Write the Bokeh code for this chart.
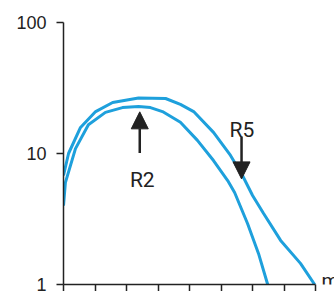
from bokeh.plotting import figure
from bokeh.embed import file_html
from bokeh.resources import INLINE
from bokeh.models import FixedTicker, Arrow, NormalHead, Label

# ---- data ----
outer_x = [0.00, 0.16, 0.54, 1.02, 1.56, 2.38, 3.24, 3.71, 4.13, 4.76, 5.30, 5.68, 6.00, 6.35, 6.89, 7.52, 7.97]
outer_y = [6.8, 10.0, 15.8, 20.9, 24.5, 26.5, 26.3, 23.7, 20.9, 14.5, 9.66, 6.79, 4.78, 3.48, 2.17, 1.45, 1.0]
inner_x = [0.00, 0.06, 0.38, 0.79, 1.33, 1.87, 2.38, 2.76, 3.14, 3.71, 4.25, 4.76, 5.21, 5.43, 5.84, 6.19, 6.48]
inner_y = [4.0, 6.0, 10.9, 16.6, 20.6, 22.4, 22.8, 22.4, 20.9, 17.3, 12.6, 8.84, 6.22, 5.04, 2.92, 1.72, 1.0]

x_ticks = [0, 1, 2, 3, 4, 5, 6, 7, 8]
y_ticks = [1, 10, 100]
y_tick_labels = ["1", "10", "100"]

# annotations: label, arrow x, arrow tail y, arrow tip y, text x, text baseline y
ann_labels = ["R2", "R5"]
ann_arrow_x = [2.42, 5.65]
ann_tail_y = [10.1, 13.5]
ann_tip_y = [20.8, 6.4]
ann_text_x = [2.50, 5.66]
ann_text_y = [6.33, 15.0]
unit_label = "m"

BLUE = "#1ea0dc"
DARK = "#222222"
FONT = "Roboto"

# frame spans from the y axis to the right edge; axis line is bounded to 0..8
x_end = 8.6

p = figure(width=334, height=291, y_axis_type="log",
           x_range=(0, x_end), y_range=(1, 100),
           output_backend="svg", toolbar_location=None,
           min_border_left=63, min_border_right=0,
           min_border_top=22, min_border_bottom=7)
p.outline_line_color = None
p.xgrid.grid_line_color = None
p.ygrid.grid_line_color = None
p.background_fill_color = "white"
p.border_fill_color = "white"

p.line(outer_x, outer_y, line_color=BLUE, line_width=3)
p.line(inner_x, inner_y, line_color=BLUE, line_width=3)

# x axis (ticks only, no labels)
xa = p.xaxis[0]
xa.bounds = (x_ticks[0], x_ticks[-1])
xa.ticker = FixedTicker(ticks=x_ticks, minor_ticks=[])
xa.major_label_overrides = {t: "" for t in x_ticks}
xa.major_label_text_font_size = "1px"
xa.major_label_standoff = 0
xa.major_tick_out = 7
xa.major_tick_in = 0
xa.minor_tick_line_color = None
xa.axis_line_color = DARK
xa.axis_line_width = 1.5
xa.major_tick_line_color = DARK
xa.major_tick_line_width = 1.5

# y axis
ya = p.yaxis[0]
ya.ticker = FixedTicker(ticks=y_ticks, minor_ticks=[])
ya.major_label_overrides = {t: s for t, s in zip(y_ticks, y_tick_labels)}
ya.major_label_text_font = "Liberation Sans"
ya.major_label_text_font_size = "18px"
ya.major_label_text_color = DARK
ya.major_label_standoff = 10
ya.major_tick_out = 7
ya.major_tick_in = 0
ya.minor_tick_line_color = None
ya.axis_line_color = DARK
ya.axis_line_width = 1.5
ya.major_tick_line_color = DARK
ya.major_tick_line_width = 1.5

for lab, ax, ty0, ty1, tx, tyy in zip(ann_labels, ann_arrow_x, ann_tail_y, ann_tip_y, ann_text_x, ann_text_y):
    p.add_layout(Arrow(end=NormalHead(size=17, fill_color=DARK, line_color=DARK),
                       x_start=ax, y_start=ty0, x_end=ax, y_end=ty1,
                       line_color=DARK, line_width=2.5))
    p.add_layout(Label(x=tx, y=tyy, text=lab, text_font=FONT, text_font_size="21px",
                       text_color=DARK, text_align="center", text_baseline="alphabetic"))

p.add_layout(Label(x=x_ticks[-1], y=y_ticks[0], x_offset=6, y_offset=4, text=unit_label,
                   text_font=FONT, text_font_size="20px", text_color=DARK,
                   text_align="left", text_baseline="alphabetic"))

open("out.html", "w").write(file_html(p, INLINE))
